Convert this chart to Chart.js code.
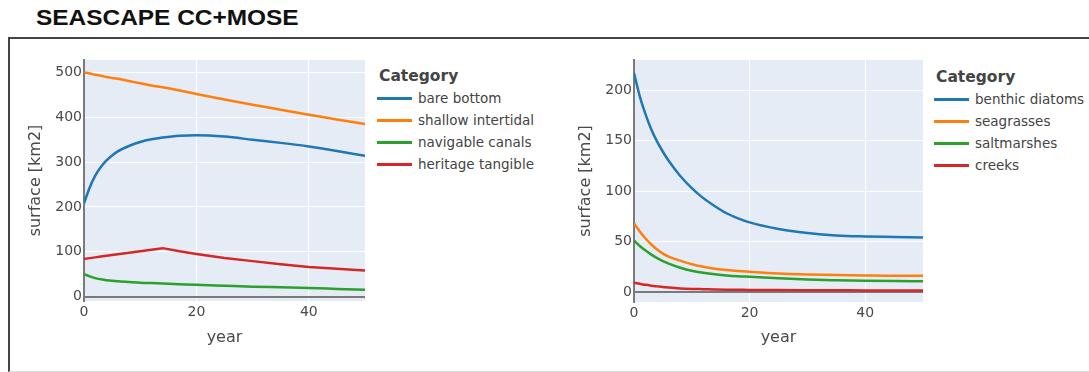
<!DOCTYPE html>
<html>
<head>
<meta charset="utf-8">
<script src="https://cdn.jsdelivr.net/npm/chart.js@4.4.1/dist/chart.umd.min.js"></script>
<style>
  html, body { margin: 0; padding: 0; background: #fff; width: 1089px; height: 372px; overflow: hidden; position: relative; }
  #title { position: absolute; left: 36px; top: 7px; font: bold 22px "Liberation Sans", Arial, sans-serif; line-height: 22px; color: #111; transform: scaleX(1.11); transform-origin: left top; white-space: nowrap; }
  #box { position: absolute; left: 8px; top: 37px; width: 1200px; height: 332px; border-left: 2px solid #444; border-top: 2px solid #444; border-bottom: 1px solid #ddd; }
  canvas { position: absolute; top: 0; }
  .legend { position: absolute; font-family: "DejaVu Sans", Verdana, sans-serif; color: #444; }
  .legend .lt { position: absolute; font-weight: bold; font-size: 15.5px; white-space: nowrap; line-height: 18px; }
  .legend .it { position: absolute; font-size: 13.5px; white-space: nowrap; line-height: 16px; }
  .legend .sw { position: absolute; height: 3px; width: 35px; }
</style>
</head>
<body>
<div id="title">SEASCAPE CC+MOSE</div>
<div id="box"></div>
<canvas id="c1" width="372" height="372" style="left:0px"></canvas>
<canvas id="c2" width="380" height="372" style="left:550px"></canvas>
<div id="leg1" class="legend"></div>
<div id="leg2" class="legend"></div>
<script>
// ---------- DATA ----------
const legendTitle = 'Category';
const xLabel = 'year';
const yLabel = 'surface [km2]';
const xTicks = [0, 20, 40];
const yTicksLeft = [0, 100, 200, 300, 400, 500];
const yTicksRight = [0, 50, 100, 150, 200];

// left panel
const namesLeft = ['bare bottom', 'shallow intertidal', 'navigable canals', 'heritage tangible'];
const yearsLeft = [0, 1, 2, 3, 4, 5, 6, 8, 10, 12, 14, 17, 20, 25, 30, 35, 40, 45, 50];
const bareBottom        = [208, 243, 270, 289, 304, 315, 324, 336, 345, 351, 355, 359, 360, 357, 350, 343, 335, 325, 314];
const shallowIntertidal = [500, 498, 495, 493, 490, 488, 486, 481, 476, 471, 467, 460, 452, 440, 428, 417, 406, 395, 385];
const navigableCanals   = [50, 45, 41, 38.5, 36.5, 35, 34, 32.5, 31, 30, 29, 27.5, 26, 24, 22, 20.5, 19, 17, 15];
const heritageTangible  = [84, 85.7, 87.4, 89.1, 90.9, 92.6, 94.3, 97.7, 101.1, 104.6, 108, 101, 95, 86, 79, 72, 66, 62, 58];

// right panel
const namesRight = ['benthic diatoms', 'seagrasses', 'saltmarshes', 'creeks'];
const yearsRight = [0, 1, 2, 3, 4, 5, 6, 8, 10, 12, 14, 16, 18, 20, 25, 30, 35, 40, 45, 50];
const benthicDiatoms = [217, 194, 176, 161, 149, 139, 130, 115, 103, 93, 85, 78, 73, 69, 62.5, 58.5, 56, 55, 54.5, 54];
const seagrasses     = [68, 60, 53, 47, 42, 38, 35, 31, 27.5, 25, 23, 21.8, 20.8, 20, 18.3, 17.3, 16.7, 16.3, 16, 16];
const saltmarshes    = [51, 45.5, 41, 37, 33.5, 30.5, 28, 24, 21, 19, 17.5, 16.3, 15.5, 15, 13.5, 12.3, 11.6, 11.1, 10.8, 10.6];
const creeks         = [9, 8, 7, 6.2, 5.5, 4.8, 4.3, 3.5, 3, 2.7, 2.4, 2.2, 2.1, 2, 1.8, 1.7, 1.6, 1.5, 1.45, 1.4];

const colors = ['#1f77b4', '#ff7f0e', '#2ca02c', '#d62728'];

// ---------- STYLE / BUILD ----------
const FONT = '"DejaVu Sans", Verdana, sans-serif';
const TXT = '#4a4a4a';
const AXIS = '#7a7a7a';

const bgPlugin = {
  id: 'plotbg',
  beforeDraw(chart) {
    const a = chart.chartArea, ctx = chart.ctx;
    ctx.save();
    ctx.fillStyle = '#e5ecf6';
    ctx.fillRect(a.left, a.top, a.right - a.left, a.bottom - a.top);
    ctx.restore();
  }
};

function build(id, years, series, names, yTicks, yMin, yMax, padRight, xHeight, sharp) {
  const datasets = series.map((vals, i) => ({
    label: names[i],
    data: years.map((x, j) => ({ x: x, y: vals[j] })),
    borderColor: colors[i],
    backgroundColor: colors[i],
    borderWidth: 2.5,
    pointRadius: 0,
    fill: false,
    cubicInterpolationMode: sharp[i] ? 'default' : 'monotone',
    tension: 0
  }));
  return new Chart(document.getElementById(id), {
    type: 'line',
    data: { datasets },
    plugins: [bgPlugin],
    options: {
      responsive: false,
      animation: false,
      devicePixelRatio: 1,
      layout: { padding: { left: 0, right: padRight, top: 60, bottom: 0 } },
      plugins: { legend: { display: false }, tooltip: { enabled: false } },
      scales: {
        x: {
          type: 'linear', min: 0, max: 50,
          afterBuildTicks: s => { s.ticks = xTicks.map(v => ({ value: v })); },
          afterFit: s => { s.height = xHeight; },
          grid: { color: c => c.tick && c.tick.value === 0 ? 'rgba(0,0,0,0)' : '#ffffff', lineWidth: 1, drawTicks: false },
          border: { display: false },
          ticks: { padding: 3, color: TXT, font: { family: FONT, size: 14 }, maxRotation: 0 },
          title: { display: true, text: xLabel, color: TXT, font: { family: FONT, size: 16 }, padding: { top: 0, bottom: 25 } }
        },
        y: {
          type: 'linear', min: yMin, max: yMax,
          afterBuildTicks: s => { s.ticks = yTicks.map(v => ({ value: v })); },
          afterFit: s => { s.width = 84; },
          grid: { color: c => c.tick && c.tick.value === 0 ? AXIS : '#ffffff', lineWidth: c => c.tick && c.tick.value === 0 ? 2 : 1, drawTicks: false },
          border: { display: true, color: AXIS, width: 2 },
          ticks: { padding: 2, color: TXT, font: { family: FONT, size: 14 } },
          title: { display: true, text: yLabel, color: TXT, font: { family: FONT, size: 16 }, padding: { top: 26, bottom: 0 } }
        }
      }
    }
  });
}

build('c1', yearsLeft, [bareBottom, shallowIntertidal, navigableCanals, heritageTangible], namesLeft,
      yTicksLeft, -10, 528, 7, 71, [false, false, false, true]);
build('c2', yearsRight, [benthicDiatoms, seagrasses, saltmarshes, creeks], namesRight,
      yTicksRight, -10, 230, 7, 70, [false, false, false, false]);

function legend(id, names, titleX, titleY, lineX, textX, rowsY) {
  const el = document.getElementById(id);
  const t = document.createElement('div');
  t.className = 'lt'; t.textContent = legendTitle;
  t.style.left = titleX + 'px'; t.style.top = (titleY - 9) + 'px';
  el.appendChild(t);
  names.forEach((n, i) => {
    const sw = document.createElement('div');
    sw.className = 'sw'; sw.style.background = colors[i];
    sw.style.left = lineX + 'px'; sw.style.top = Math.round(rowsY[i] - 1.5) + 'px';
    el.appendChild(sw);
    const it = document.createElement('div');
    it.className = 'it'; it.textContent = n;
    it.style.left = textX + 'px'; it.style.top = Math.round(rowsY[i] - 8) + 'px';
    el.appendChild(it);
  });
}
legend('leg1', namesLeft, 379, 76, 377, 418, [98, 120, 142, 164]);
legend('leg2', namesRight, 936, 77, 934, 975, [99, 121, 143, 165]);
</script>
</body>
</html>
